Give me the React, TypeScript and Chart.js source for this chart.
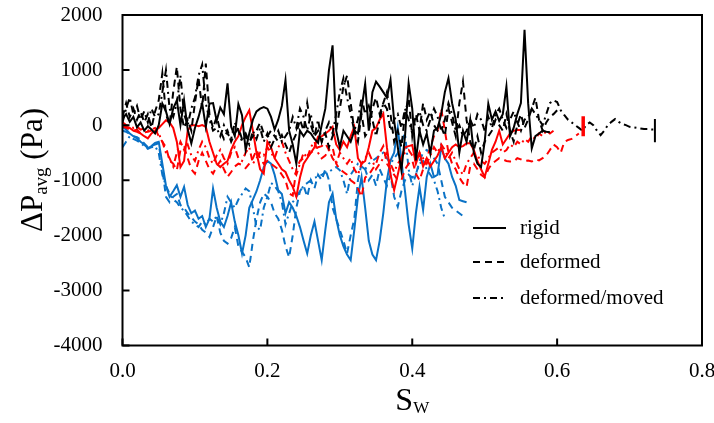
import React, { useEffect, useRef } from "react";
import { Chart, registerables } from "chart.js";

Chart.register(...registerables);

// Water saturation grid (x values)
const SW = [
  0, 0.005, 0.01, 0.015, 0.02, 0.025, 0.03, 0.035, 0.04, 0.045,
  0.05, 0.055, 0.06, 0.065, 0.07, 0.075, 0.08, 0.085, 0.09, 0.095,
  0.1, 0.105, 0.11, 0.115, 0.12, 0.125, 0.13, 0.135, 0.14, 0.145,
  0.15, 0.155, 0.16, 0.165, 0.17, 0.175, 0.18, 0.185, 0.19, 0.195,
  0.2, 0.205, 0.21, 0.215, 0.22, 0.225, 0.23, 0.235, 0.24, 0.245,
  0.25, 0.255, 0.26, 0.265, 0.27, 0.275, 0.28, 0.285, 0.29, 0.295,
  0.3, 0.305, 0.31, 0.315, 0.32, 0.325, 0.33, 0.335, 0.34, 0.345,
  0.35, 0.355, 0.36, 0.365, 0.37, 0.375, 0.38, 0.385, 0.39, 0.395,
  0.4, 0.405, 0.41, 0.415, 0.42, 0.425, 0.43, 0.435, 0.44, 0.445,
  0.45, 0.455, 0.46, 0.465, 0.47, 0.475, 0.48, 0.485, 0.49, 0.495,
  0.5, 0.505, 0.51, 0.515, 0.52, 0.525, 0.53, 0.535, 0.54, 0.545,
  0.55, 0.555, 0.56, 0.565, 0.57, 0.575, 0.58, 0.585, 0.59, 0.595,
  0.6, 0.605, 0.61, 0.615, 0.62, 0.625, 0.63, 0.635, 0.64, 0.645,
  0.65, 0.655, 0.66, 0.665, 0.67, 0.675, 0.68, 0.685, 0.69, 0.695,
  0.7, 0.705, 0.71, 0.715, 0.72, 0.725, 0.73, 0.735,
];

// Black series
const BLACK_RIGID = [
  120, 200, 60, 150, -40, 50, -100, -20, -80, -150,
  0, 390, 250, 20, 300, 450, 0, 450, -80, -330,
  -50, 150, 400, -30, 390, 400, 80, 320, 200, 760,
  -30, -200, 380, 180, -450, -150, 100, 250, 300, 330,
  300, 150, -80, 100, 350, 820, -100, -350, -700, -100,
  -200, -100, -150, -250, -320, 0, 300, 1000, 1450, -100,
  -400, -100, -200, -300, -100, -150, 300, 750, -100, 600,
  790, 700, 600, 500, 820, 80, -400, -820, -200, 760,
  300, -640, -100, -350, -150, -510, -100, -50, 200, 600,
  850, 400, 100, -500, -100, -300, 100, -500, -700, -760,
  -300, 390, 100, 250, 80, 200, 700, -200, -50, 200,
  400, 1730, 400, -420, -200, -150, -100, -120, -130,
];
const BLACK_DEFORMED = [
  150, 400, 150, 300, 100, 250, 50, 200, -50, 250,
  450, 940, 200, 0, 600, 1060, 300, -50, 100, -100,
  400, 850, 300, 1120, 200, -50, 150, -100, -250, -100,
  -300, -150, -50, -250, -150, -300, -200, -100, 50, -150,
  -200, -100, -200, -300, -180, -350, -500, -300, -150, 100,
  -100, 400, 0, -200, -100, -300, -150, -400, -200, -100,
  300, 700, 900, 400, -100, -300, 200, -200, -100, 300,
  500, 200, 400, 600, 200, -300, -100, -400, 200, 500,
  -200, 200, -100, 400, 100, 250, 0, -100, -30, -200,
  300, 50, -200, 400, 790, 100, -300, -450, -200, -500,
  -300, -200, -100, 100, 0, -100, 200, -100, -300, 0,
  200, -50, 100, 300, 500, 100, -100, 50, 150, 200,
  270,
];
const BLACK_MOVED = [
  50, 300, 500, 200, 350, 100, 250, 50, 300, 150,
  200, 600, 1000, 300, 150, 400, 900, 200, 0, 300,
  500, 900, 1100, 400, 100, -100, -50, -200, 0, -150,
  -250, 50, -100, -300, -200, -350, -100, -250, -50, -300,
  -150, -400, -250, -100, -300, -200, -100, 150, -50, 300,
  150, -100, 200, -200, 100, -300, -100, 50, -150, 200,
  600, 850, 500, 200, -100, 100, 500, 200, 350, 100,
  -200, 100, 400, 300, -100, 100, 200, -50, 300, 100,
  -150, 100, 250, 0, -100, 100, 300, 150, -100, 100,
  400, 200, -100, 0, -200, -100, 100, -50, 200, 100,
  -100, 150, -50, 200, 300, 100, -50, 100, 250, 50,
  -100, 100, 150, 300, 200, 100, 0, 200, 400, 450,
  420, 270, 180, 100, 50, 0, -50, -100, 0, 50,
  0, -100, -180, -100, 0, 60, 110, 60, 20, 0,
  -30, -40, -50, -60, -70, -70, -80, -80,
];
const BLACK_BAR_SW = [0.735, 0.735];
const BLACK_BAR_VALUES = [110, -310];

// Red series
const RED_RIGID = [
  0, -30, -50, -100, -80, -150, -200, -240, -150, -100,
  -50, 20, 90, 50, -50, -300, -760, -650, -100, 0,
  0, -20, 0, -30, -300, -500, -700, -760, -700, -650,
  -450, -300, -200, 0, 150, 270, -100, -500, -800, -880,
  -300, -400, -600, -700, -800, -850, -1000, -1120, -1300, -950,
  -700, -600, -500, -400, -210, -200, -150, -100, -30, -350,
  -450, -300, -400, -200, -30, -600, -700, -650, -400, -100,
  -50, 100, 210, -400, -900, -1180, -900, -600, -400, -380,
  -360, -700, -500, -750, -600, -750, -650, -550, -400, -600,
  -500, -400, -350, -400, -380, -330, -330, -450, -650, -800,
  -940, -700, -450, -300, -100, -350, -250, -150, -100, -90,
  -90,
];
const RED_DEFORMED = [
  -20, -50, -80, -100, -120, -150, -130, -120, -100, -60,
  -200, -300, -400, -640, -700, -820, -450, -400, -600, -800,
  -880, -650, -500, -650, -800, -880, -750, -650, -800, -940,
  -850, -750, -700, -720, -780, -700, -600, -450, -600, -700,
  -650, -700, -750, -800, -900, -1000, -1240, -1280, -800, -650,
  -600, -550, -500, -450, -400, -380, -330, -450, -400, -700,
  -800, -850, -900, -1000, -1050, -1150, -1300, -950, -900, -800,
  -700, -500, -380, -700, -800, -900, -1000, -1000, -800, -700,
  -640, -880, -1000, -800, -600, -400, -200, -100, 300, -100,
  -500, -700, -800, -950, -1050, -1120, -750, -700, -800, -900,
  -950, -800, -700, -650, -600, -620, -650, -660, -660, -600,
  -620, -650, -640, -660, -620, -640, -600, -550, -450, -350,
  -400, -500, -300, -270, -250, -200, -150,
];
const RED_MOVED = [
  50, 0, -20, -50, -30, -80, -60, -100, -80, -50,
  -150, -300, -500, -600, -750, -500, -300, -450, -350, -550,
  -650, -450, -300, -400, -600, -700, -550, -450, -600, -700,
  -500, -400, -600, -650, -500, -400, -700, -600, -500, -550,
  -400, -500, -600, -400, -300, -500, -650, -800, -900, -700,
  -500, -600, -400, -300, -500, -600, -550, -450, -600, -700,
  -500, -600, -700, -600, -800, -900, -700, -600, -500, -650,
  -800, -700, -600, -500, -700, -850, -700, -600, -500, -450,
  -550, -650, -500, -600, -700, -550, -400, -500, -350, -450,
  -600, -500, -650, -800, -900, -700, -600, -500, -550, -650,
  -700, -600, -500, -450, -400, -500, -450, -350, -400, -300,
  -350, -250, -300, -200, -250, -150, -200, -100, -150, -100,
];
const RED_BAR_SW = [0.636, 0.636];
const RED_BAR_VALUES = [160, -200];

// Blue series
const BLUE_RIGID = [
  -30, -80, -150, -200, -240, -300, -350, -420, -380, -320,
  -300, -700, -1100, -1300, -1200, -1090, -1300, -1120, -1450, -1600,
  -1550, -1700, -1650, -1850, -1700, -1150, -1500, -1750, -1850, -1650,
  -1400, -1750, -2000, -2330, -2000, -1500, -1350, -1200, -1000, -760,
  -650, -700, -900, -1180, -1250, -1600, -1400, -1500, -1650, -1850,
  -2100, -2330, -2000, -1750, -2100, -2450, -1900, -1400, -1240, -1700,
  -2000, -2200, -2350, -2450, -1900, -1300, -940, -1500, -2100, -2350,
  -2450, -2100, -1600, -1000, -640, -500, -50, -640, -1200, -1800,
  -2240, -1600, -1120, -1540, -940, -700, -940, -900, -390, -600,
  -700, -940, -1100, -1360, -1380, -1400,
];
const BLUE_DEFORMED = [
  -100, -120, -160, -200, -220, -260, -330, -400, -380, -350,
  -330, -800, -1300, -1400, -1300, -1250, -1450, -1500, -1600, -1670,
  -1750, -1800, -1900, -1950, -2030, -1850, -1650, -1950, -2100, -2150,
  -2050, -1850, -2200, -2300, -2400, -2580, -2100, -1700, -1400, -1240,
  -1300, -1400, -1600, -1700, -1900, -2200, -2400, -2000, -1500, -1200,
  -1100, -1300, -1000, -1150, -900, -1000, -800, -1000, -1500, -1700,
  -1900, -2100, -2330, -2000, -1700, -1000, -700, -800, -1000, -900,
  -1100, -800, -950, -1100, -900, -1300, -1480, -1200, -1000, -900,
  -950, -900, -650, -500, -450, -500, -600, -700, -1000, -1300,
  -1400, -1500, -1550, -1600, -1650,
];
const BLUE_MOVED = [
  -400, -300, -200, -250, -280, -320, -380, -430, -400, -380,
  -500, -900, -1100, -1250, -1350, -1400, -1500, -1550, -1650, -1750,
  -1800, -1850, -1750, -1800, -1700, -1750, -1650, -1800, -1600, -1300,
  -1400, -1500, -1350, -1250, -1150, -1200, -1500, -1850, -1900, -1500,
  -1300, -1050, -1100, -1200, -1400, -1800, -1600, -1400, -1300, -1200,
  -1100, -1050, -1000, -950, -940, -900, -860, -850, -800, -760,
  -820, -1000, -1250, -900, -800, -700, -750, -800, -700, -650,
  -600, -550, -500, -600, -700, -600, -510, -300, -150, -800,
  -1100, -900, -700, -650, -800, -900, -1000, -1200, -1500, -1700,
];

const X_TICKS = [0, 0.2, 0.4, 0.6, 0.8];
const Y_TICKS = [-4000, -3000, -2000, -1000, 0, 1000, 2000];
const LEGEND_LABELS = ["rigid", "deformed", "deformed/moved"];

const FONT = "'Liberation Serif', 'Times New Roman', serif";
const BLACK = "#000000";
const RED = "#FF0000";
const BLUE = "#0A72C6";
const SOLID: number[] = [];
const DASHED = [7, 5];
const DASHDOT = [7, 4, 2, 4];
const LEGEND_DASHES = [SOLID, DASHED, DASHDOT];

function toPoints(values: number[]) {
  return values.map((v, i) => ({ x: SW[i], y: v }));
}
function toBar(xs: number[], ys: number[]) {
  return ys.map((v, i) => ({ x: xs[i], y: v }));
}
function line(data: any[], color: string, dash: number[], width = 2) {
  return {
    data,
    borderColor: color,
    backgroundColor: color,
    borderWidth: width,
    borderDash: dash,
    pointRadius: 0,
    tension: 0,
    fill: false,
  };
}

const decorPlugin = {
  id: "decor",
  afterDraw(chart: any) {
    const { ctx, chartArea: a, scales } = chart;
    const xs = scales.x;
    const ys = scales.y;
    ctx.save();
    ctx.setLineDash([]);
    ctx.strokeStyle = "#000";
    ctx.lineWidth = 2;
    ctx.strokeRect(a.left, a.top, a.right - a.left, a.bottom - a.top);
    ctx.beginPath();
    Y_TICKS.forEach((v) => {
      const y = ys.getPixelForValue(v);
      ctx.moveTo(a.left, y);
      ctx.lineTo(a.left + 7, y);
    });
    X_TICKS.forEach((v) => {
      const x = xs.getPixelForValue(v);
      ctx.moveTo(x, a.bottom);
      ctx.lineTo(x, a.bottom - 7);
    });
    ctx.stroke();

    // legend
    const rows = [228, 262, 298];
    ctx.fillStyle = "#000";
    ctx.font = `21px ${FONT}`;
    ctx.textBaseline = "alphabetic";
    ctx.textAlign = "left";
    LEGEND_LABELS.forEach((label, i) => {
      const y = rows[i];
      ctx.beginPath();
      ctx.setLineDash(LEGEND_DASHES[i]);
      ctx.lineWidth = 2;
      ctx.moveTo(473, y);
      ctx.lineTo(506, y);
      ctx.stroke();
      ctx.setLineDash([]);
      ctx.fillText(label, 520, y + 6);
    });

    // x title S_W
    const cx = (a.left + a.right) / 2;
    ctx.font = `32px ${FONT}`;
    const sW = ctx.measureText("S").width;
    ctx.font = `17px ${FONT}`;
    const wW = ctx.measureText("W").width;
    const x0 = cx - (sW + wW) / 2;
    ctx.font = `32px ${FONT}`;
    ctx.fillText("S", x0, 410);
    ctx.font = `17px ${FONT}`;
    ctx.fillText("W", x0 + sW, 413);

    // y title ΔP_avg (Pa)
    ctx.save();
    ctx.translate(42, 170);
    ctx.rotate(-Math.PI / 2);
    ctx.font = `31px ${FONT}`;
    const w1 = ctx.measureText("ΔP").width;
    const w3 = ctx.measureText(" (Pa)").width;
    ctx.font = `19px ${FONT}`;
    const w2 = ctx.measureText("avg").width;
    let sx = -(w1 + w2 + w3) / 2;
    ctx.font = `31px ${FONT}`;
    ctx.fillText("ΔP", sx, 0);
    sx += w1;
    ctx.font = `19px ${FONT}`;
    ctx.fillText("avg", sx, 5);
    sx += w2;
    ctx.font = `31px ${FONT}`;
    ctx.fillText(" (Pa)", sx, 0);
    ctx.restore();

    ctx.restore();
  },
};

export default function App() {
  const ref = useRef<HTMLCanvasElement | null>(null);
  useEffect(() => {
    if (!ref.current) return;
    const chart = new Chart(ref.current, {
      type: "line",
      data: {
        datasets: [
          line(toBar(BLACK_BAR_SW, BLACK_BAR_VALUES), BLACK, SOLID, 2),
          line(toBar(RED_BAR_SW, RED_BAR_VALUES), RED, SOLID, 3.5),
          line(toPoints(BLACK_RIGID), BLACK, SOLID),
          line(toPoints(BLACK_DEFORMED), BLACK, DASHED),
          line(toPoints(BLACK_MOVED), BLACK, DASHDOT),
          line(toPoints(RED_RIGID), RED, SOLID),
          line(toPoints(RED_DEFORMED), RED, DASHED),
          line(toPoints(RED_MOVED), RED, DASHDOT),
          line(toPoints(BLUE_RIGID), BLUE, SOLID),
          line(toPoints(BLUE_DEFORMED), BLUE, DASHED),
          line(toPoints(BLUE_MOVED), BLUE, DASHDOT),
        ] as any,
      },
      options: {
        animation: false,
        responsive: false,
        devicePixelRatio: 1,
        layout: { padding: { left: 0, top: 15, right: 12, bottom: 0 } },
        plugins: { legend: { display: false }, tooltip: { enabled: false } },
        scales: {
          x: {
            type: "linear",
            min: 0,
            max: 0.8,
            grid: { display: false, drawTicks: false },
            border: { display: false },
            ticks: {
              stepSize: 0.2,
              padding: 13,
              color: "#000",
              font: { size: 21, family: FONT },
              callback: (v: any) => Number(v).toFixed(1),
            },
            afterFit: (s: any) => {
              s.height = 77.5;
              s.paddingLeft = 0;
              s.paddingRight = 0;
            },
          },
          y: {
            type: "linear",
            min: -4000,
            max: 2000,
            grid: { display: false, drawTicks: false },
            border: { display: false },
            ticks: {
              stepSize: 1000,
              padding: 20,
              color: "#000",
              font: { size: 21, family: FONT },
              callback: (v: any) => String(v),
            },
            afterFit: (s: any) => {
              s.width = 122.5;
              s.paddingTop = 0;
              s.paddingBottom = 0;
            },
          },
        },
      } as any,
      plugins: [decorPlugin],
    });
    return () => chart.destroy();
  }, []);
  return (
    <div style={{ position: "fixed", left: 0, top: 0, width: 714, height: 423, background: "#fff" }}>
      <canvas ref={ref} width={714} height={423} style={{ display: "block" }} />
    </div>
  );
}
